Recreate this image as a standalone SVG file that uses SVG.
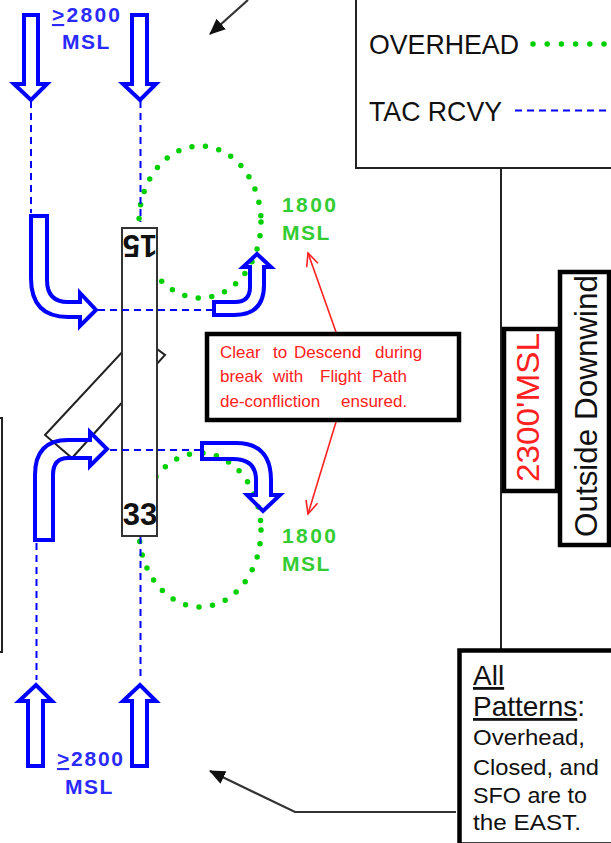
<svg xmlns="http://www.w3.org/2000/svg" width="611" height="843" viewBox="0 0 611 843">
<style>
text{font-family:"Liberation Sans",Arial,sans-serif}
.arrow{fill:none;stroke:#0000ff;stroke-width:4;stroke-miterlimit:6}
.dash{fill:none;stroke:#0000ff;stroke-width:2;stroke-dasharray:7 5}
.dots{fill:none;stroke:#00d000;stroke-width:5.5;stroke-linecap:round;stroke-dasharray:0 13.7}
.box{fill:#fff;stroke:#000;stroke-width:4.5}
.thin{fill:none;stroke:#222;stroke-width:2}
.rw{fill:#fff;stroke:#333;stroke-width:2}
.blue{fill:#2a2aff;font-weight:bold;font-size:21px}
.green{fill:#33cc33;font-weight:bold;font-size:21px}
.red{fill:#ff2020;font-size:17px}
.blk{fill:#111;font-size:28px}
.all{fill:#111;font-size:22px}
.red2{stroke:#ff2020;stroke-width:1.6;fill:none}
.ptr{stroke:#333;stroke-width:2.2;fill:none}
</style>
<defs>
<marker id="ah" markerUnits="userSpaceOnUse" markerWidth="18" markerHeight="18" refX="15" refY="7" orient="auto"><path d="M0 0L16 7L0 14Z" fill="#111"/></marker>
<marker id="oh" markerUnits="userSpaceOnUse" markerWidth="18" markerHeight="18" refX="14" refY="7" orient="auto"><path d="M1 1L14 7L1 13" fill="none" stroke="#ff2020" stroke-width="1.6"/></marker>
</defs>

<g id="frames">
<rect class="thin" x="-10" y="418" width="12" height="234"/>
<path class="thin" d="M501 168V650"/>
</g>

<g id="patterns">
<ellipse class="dots" cx="200" cy="222" rx="61" ry="76"/>
<ellipse class="dots" cx="200" cy="530" rx="61" ry="77"/>
</g>

<g id="taxiway"><path class="thin" d="M45 435L138 335L165 355L72 458Z"/></g>
<g id="runway">
<rect class="rw" x="122" y="228" width="35" height="308"/>
<text x="140" y="246" transform="rotate(180 140 246)" dy="11" text-anchor="middle" font-size="31" font-weight="bold" fill="#111">15</text>
<text x="140" y="525" text-anchor="middle" font-size="31" font-weight="bold" fill="#111">33</text>
</g>

<g id="connectors">
<path class="dash" d="M31 101V213M140.500 101V222M36.500 543V680M140.500 537V680M98 310H213M110 450H201"/>
<path class="arrow" d="M24 15H38V84H47L31 100L14 84H24Z"/>
<path class="arrow" d="M132 15H147V84H156L140 100L123 84H132Z"/>
<path class="arrow" d="M31 216H47V280Q47 302 68 302H80V293L96 310L80 326V317H68Q31 317 31 278Z"/>
<path class="arrow" d="M214 302H235Q250 302 250 287V267H243L257 254L271 267H264V285Q264 315 234 315H214Z"/>
<path class="arrow" d="M35 540V475Q35 440 68 440H90V432L107 449L90 466V458H68Q53 458 53 475V540Z"/>
<path class="arrow" d="M202 443H236Q271 443 271 480V495H280L263 511L247 495H256V480Q256 459 233 459H202Z"/>
<path class="arrow" d="M28 766V701H19L36 685L52 701H43V766Z"/>
<path class="arrow" d="M132 766V701H123L140 685L156 701H147V766Z"/>
<path class="ptr" marker-end="url(#ah)" d="M248 0L210 34"/>
<path class="ptr" marker-end="url(#ah)" d="M456 812H295L210 771"/>
<path class="red2" marker-end="url(#oh)" d="M336 332L308 253"/>
<path class="red2" marker-end="url(#oh)" d="M336 422L308 514"/>
</g>

<g id="label-top-alt">
<text class="blue" x="52" y="22" textLength="68"><tspan text-decoration="underline">&gt;</tspan>2800</text>
<text class="blue" x="62" y="49" letter-spacing="1.500">MSL</text>
</g>
<g id="label-bottom-alt">
<text class="blue" x="57" y="766" textLength="66"><tspan text-decoration="underline">&gt;</tspan>2800</text>
<text class="blue" x="65" y="794" letter-spacing="1.500">MSL</text>
</g>
<g id="label-1800-top">
<text class="green" x="282" y="212" textLength="54">1800</text>
<text class="green" x="282" y="240" letter-spacing="1.500">MSL</text>
</g>
<g id="label-1800-bottom">
<text class="green" x="282" y="543" textLength="54">1800</text>
<text class="green" x="282" y="571" letter-spacing="1.500">MSL</text>
</g>

<g id="legend">
<rect x="356" y="-10" width="270" height="178" fill="#fff" stroke="#222" stroke-width="2"/>
<text class="blk" x="369" y="54" textLength="150" lengthAdjust="spacingAndGlyphs">OVERHEAD</text>
<path class="dots" d="M533 44H612" style="stroke-dasharray:0 14.200"/>
<text class="blk" x="369" y="121" textLength="133" lengthAdjust="spacingAndGlyphs">TAC RCVY</text>
<path class="dash" d="M515 110.500H611"/>
</g>

<g id="note-clear">
<rect class="box" x="207" y="334" width="252" height="86"/>
<text class="red" y="358"><tspan x="220">Clear</tspan> <tspan x="273">to</tspan> <tspan x="294">Descend</tspan> <tspan x="375">during</tspan></text>
<text class="red" y="382"><tspan x="220">break</tspan> <tspan x="273">with</tspan> <tspan x="320">Flight</tspan> <tspan x="372">Path</tspan></text>
<text class="red" y="407"><tspan x="220">de-confliction</tspan> <tspan x="341">ensured.</tspan></text>
</g>

<g id="note-2300">
<rect class="box" x="504" y="329" width="53" height="162"/>
<text transform="translate(539 482) rotate(-90)" font-size="31" fill="#ff2020" textLength="149" lengthAdjust="spacingAndGlyphs">2300'MSL</text>
</g>
<g id="note-downwind">
<rect class="box" x="560" y="272" width="49" height="273"/>
<text transform="translate(597 537) rotate(-90)" font-size="31" fill="#111" textLength="262" lengthAdjust="spacingAndGlyphs">Outside Downwind</text>
</g>

<g id="note-patterns">
<rect class="box" x="459.500" y="650.500" width="170" height="194"/>
<text class="blk" x="473" y="685" text-decoration="underline">All</text>
<text class="blk" x="473" y="716" textLength="112" lengthAdjust="spacingAndGlyphs"><tspan text-decoration="underline">Patterns</tspan>:</text>
<text class="all" x="473" y="745" textLength="112" lengthAdjust="spacingAndGlyphs">Overhead,</text>
<text class="all" x="473" y="775" textLength="126" lengthAdjust="spacingAndGlyphs">Closed, and</text>
<text class="all" x="473" y="803" textLength="114" lengthAdjust="spacingAndGlyphs">SFO are to</text>
<text class="all" x="473" y="830" textLength="108" lengthAdjust="spacingAndGlyphs">the EAST.</text>
</g>
</svg>
